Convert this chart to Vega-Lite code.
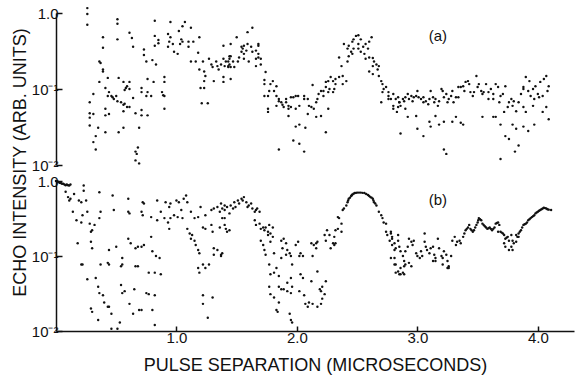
{
"$schema": "https://vega.github.io/schema/vega-lite/v6.json",
"background": "white",
"padding": {"left": 10, "top": 6, "right": 4, "bottom": 4},
"spacing": 16,
"bounds": "flush",
"config": {
 "view": {"stroke": null},
 "font": "Liberation Sans",
 "axis": {"grid": false, "domainColor": "#111", "tickColor": "#111", "labelColor": "#111", "titleColor": "#111", "domainWidth": 1.5, "tickWidth": 1.5, "labelFontSize": 15, "titleFontWeight": "normal"}
},
"datasets": {
"a": [
{"t":0.26,"v":1.16},{"t":0.26,"v":0.97},{"t":0.26,"v":0.70},{"t":0.51,"v":0.83},{"t":0.51,"v":0.72},{"t":0.82,"v":0.79},{"t":0.95,"v":0.76},{"t":1.07,"v":0.76},{"t":1.05,"v":0.67},{"t":1.12,"v":0.64},{"t":1.02,"v":0.58},{"t":0.61,"v":0.55},{"t":0.63,"v":0.47},{"t":0.64,"v":0.36},{"t":0.39,"v":0.48},{"t":0.39,"v":0.35},{"t":0.51,"v":0.45},{"t":0.73,"v":0.33},{"t":0.73,"v":0.28},{"t":0.82,"v":0.50},{"t":0.85,"v":0.44},{"t":0.85,"v":0.40},{"t":0.82,"v":0.37},{"t":0.93,"v":0.53},{"t":0.95,"v":0.48},{"t":0.94,"v":0.42},{"t":0.97,"v":0.39},{"t":0.93,"v":0.36},{"t":0.98,"v":0.31},{"t":1.01,"v":0.29},{"t":1.04,"v":0.45},{"t":1.05,"v":0.42},{"t":1.03,"v":0.39},{"t":1.10,"v":0.42},{"t":1.10,"v":0.36},{"t":1.14,"v":0.42},{"t":1.19,"v":0.48},{"t":1.18,"v":0.30},{"t":1.16,"v":0.23},{"t":1.12,"v":0.23},{"t":0.80,"v":0.24},{"t":0.75,"v":0.23},{"t":0.83,"v":0.21},{"t":0.36,"v":0.23},{"t":0.37,"v":0.22},{"t":0.39,"v":0.18},{"t":0.39,"v":0.17},{"t":0.36,"v":0.124},{"t":0.43,"v":0.14},{"t":0.52,"v":0.14},{"t":0.56,"v":0.124},{"t":0.61,"v":0.124},{"t":0.58,"v":0.103},{"t":0.57,"v":0.097},{"t":0.76,"v":0.135},{"t":0.81,"v":0.124},{"t":0.90,"v":0.144},{"t":0.90,"v":0.124},{"t":0.71,"v":0.103},{"t":0.71,"v":0.091},{"t":0.76,"v":0.091},{"t":0.79,"v":0.081},{"t":0.75,"v":0.081},{"t":0.88,"v":0.091},{"t":0.89,"v":0.083},{"t":0.90,"v":0.081},{"t":0.41,"v":0.103},{"t":0.44,"v":0.091},{"t":0.46,"v":0.081},{"t":0.47,"v":0.078},{"t":0.48,"v":0.074},{"t":0.50,"v":0.081},{"t":0.51,"v":0.069},{"t":0.43,"v":0.081},{"t":0.31,"v":0.086},{"t":0.64,"v":0.076},{"t":0.54,"v":0.067},{"t":0.56,"v":0.062},{"t":0.59,"v":0.058},{"t":0.57,"v":0.064},{"t":0.61,"v":0.10},{"t":0.59,"v":0.109},{"t":0.28,"v":0.067},{"t":0.41,"v":0.055},{"t":0.41,"v":0.045},{"t":0.44,"v":0.047},{"t":0.56,"v":0.051},{"t":0.61,"v":0.058},{"t":0.66,"v":0.048},{"t":0.71,"v":0.053},{"t":0.71,"v":0.045},{"t":0.76,"v":0.045},{"t":0.90,"v":0.055},{"t":0.28,"v":0.048},{"t":0.31,"v":0.047},{"t":0.28,"v":0.042},{"t":0.28,"v":0.033},{"t":0.35,"v":0.031},{"t":0.41,"v":0.027},{"t":0.52,"v":0.027},{"t":0.56,"v":0.031},{"t":0.69,"v":0.031},{"t":0.33,"v":0.024},{"t":0.31,"v":0.020},{"t":0.33,"v":0.016},{"t":0.68,"v":0.017},{"t":0.66,"v":0.015},{"t":0.67,"v":0.014},{"t":0.66,"v":0.0115},{"t":0.69,"v":0.0105},{"t":1.21,"v":0.065},{"t":1.26,"v":0.065},
{"t":1.19,"v":0.18},{"t":1.22,"v":0.23},{"t":1.23,"v":0.17},{"t":1.24,"v":0.148},{"t":1.27,"v":0.25},{"t":1.29,"v":0.21},{"t":1.30,"v":0.195},{"t":1.31,"v":0.127},{"t":1.33,"v":0.23},{"t":1.34,"v":0.20},{"t":1.35,"v":0.18},{"t":1.37,"v":0.21},{"t":1.39,"v":0.25},{"t":1.40,"v":0.20},{"t":1.41,"v":0.23},{"t":1.43,"v":0.195},{"t":1.44,"v":0.25},{"t":1.44,"v":0.27},{"t":1.23,"v":0.127},{"t":1.39,"v":0.144},{"t":1.39,"v":0.124},{"t":1.20,"v":0.103},{"t":1.23,"v":0.103},{"t":1.39,"v":0.37},
{"t":1.59,"v":0.56},{"t":1.63,"v":0.64},{"t":1.50,"v":0.48},{"t":1.45,"v":0.39},{"t":1.54,"v":0.36},{"t":1.55,"v":0.34},{"t":1.56,"v":0.37},{"t":1.59,"v":0.39},{"t":1.54,"v":0.31},{"t":1.56,"v":0.29},{"t":1.58,"v":0.32},{"t":1.62,"v":0.36},{"t":1.63,"v":0.31},{"t":1.68,"v":0.39},{"t":1.68,"v":0.37},{"t":1.66,"v":0.32},{"t":1.68,"v":0.29},{"t":1.68,"v":0.26},{"t":1.70,"v":0.25},{"t":1.66,"v":0.25},{"t":1.60,"v":0.23},{"t":1.56,"v":0.25},{"t":1.52,"v":0.26},{"t":1.51,"v":0.23},{"t":1.45,"v":0.27},{"t":1.43,"v":0.23},{"t":1.44,"v":0.21},{"t":1.47,"v":0.23},{"t":1.48,"v":0.195},{"t":1.45,"v":0.195},{"t":1.43,"v":0.20},{"t":1.66,"v":0.20},{"t":1.70,"v":0.21},{"t":1.74,"v":0.167},{"t":1.45,"v":0.135},{"t":1.73,"v":0.131},{"t":1.73,"v":0.116},{"t":1.80,"v":0.127},{"t":1.78,"v":0.116},{"t":1.83,"v":0.109},{"t":1.81,"v":0.094},{"t":1.77,"v":0.094},{"t":1.73,"v":0.081},{"t":1.76,"v":0.081},{"t":1.83,"v":0.081},{"t":1.85,"v":0.074},{"t":1.85,"v":0.069},{"t":1.87,"v":0.067},{"t":1.88,"v":0.062},{"t":1.89,"v":0.058},{"t":1.91,"v":0.067},{"t":1.93,"v":0.060},{"t":1.91,"v":0.074},{"t":1.95,"v":0.078},{"t":1.97,"v":0.078},{"t":1.99,"v":0.081},{"t":2.01,"v":0.081},{"t":1.95,"v":0.058},{"t":1.99,"v":0.055},{"t":2.02,"v":0.060},{"t":2.06,"v":0.074},{"t":2.06,"v":0.081},{"t":2.09,"v":0.074},{"t":2.10,"v":0.060},{"t":2.12,"v":0.058},{"t":2.09,"v":0.047},{"t":2.14,"v":0.055},{"t":2.16,"v":0.067},{"t":2.17,"v":0.074},{"t":2.18,"v":0.086},{"t":2.20,"v":0.094},{"t":2.22,"v":0.094},{"t":2.24,"v":0.106},{"t":2.22,"v":0.081},{"t":2.26,"v":0.091},{"t":2.27,"v":0.10},{"t":2.30,"v":0.091},{"t":2.24,"v":0.124},{"t":2.26,"v":0.127},{"t":2.28,"v":0.144},{"t":2.30,"v":0.127},{"t":2.32,"v":0.135},{"t":2.35,"v":0.144},{"t":2.38,"v":0.148},{"t":2.38,"v":0.116},{"t":2.41,"v":0.127},{"t":2.32,"v":0.116},{"t":2.31,"v":0.10},{"t":1.76,"v":0.055},{"t":1.76,"v":0.050},{"t":1.83,"v":0.060},{"t":1.93,"v":0.044},{"t":1.93,"v":0.055},{"t":1.99,"v":0.032},{"t":2.02,"v":0.034},{"t":2.07,"v":0.031},{"t":2.16,"v":0.043},{"t":2.20,"v":0.044},{"t":2.26,"v":0.055},{"t":2.24,"v":0.027},{"t":1.97,"v":0.021},{"t":2.02,"v":0.019},{"t":2.06,"v":0.015},{"t":1.85,"v":0.016},{"t":2.13,"v":0.113},{"t":2.37,"v":0.20},{"t":2.35,"v":0.26},
{"t":2.39,"v":0.39},{"t":2.42,"v":0.34},{"t":2.43,"v":0.37},{"t":2.46,"v":0.42},{"t":2.47,"v":0.45},{"t":2.49,"v":0.50},{"t":2.51,"v":0.51},{"t":2.53,"v":0.45},{"t":2.51,"v":0.39},{"t":2.47,"v":0.34},{"t":2.45,"v":0.31},{"t":2.43,"v":0.27},{"t":2.42,"v":0.23},{"t":2.46,"v":0.29},{"t":2.51,"v":0.34},{"t":2.53,"v":0.31},{"t":2.55,"v":0.36},{"t":2.57,"v":0.39},{"t":2.60,"v":0.42},{"t":2.62,"v":0.48},{"t":2.59,"v":0.34},{"t":2.56,"v":0.29},{"t":2.57,"v":0.25},{"t":2.60,"v":0.26},{"t":2.63,"v":0.256},{"t":2.64,"v":0.23},{"t":2.66,"v":0.21},{"t":2.67,"v":0.18},{"t":2.68,"v":0.20},{"t":2.63,"v":0.20},{"t":2.60,"v":0.17},{"t":2.63,"v":0.157},{"t":2.68,"v":0.148},{"t":2.70,"v":0.127},{"t":2.71,"v":0.116},{"t":2.72,"v":0.10},{"t":2.74,"v":0.106},{"t":2.71,"v":0.091},{"t":2.76,"v":0.081},{"t":2.76,"v":0.091},{"t":2.78,"v":0.074},{"t":2.80,"v":0.086},{"t":2.82,"v":0.074},{"t":2.84,"v":0.078},{"t":2.80,"v":0.060},{"t":2.80,"v":0.055},{"t":2.84,"v":0.058},{"t":2.85,"v":0.067},{"t":2.70,"v":0.067},{"t":2.76,"v":0.074},
{"t":2.85,"v":0.067},{"t":2.86,"v":0.060},{"t":2.88,"v":0.074},{"t":2.89,"v":0.069},{"t":2.90,"v":0.078},{"t":2.92,"v":0.086},{"t":2.93,"v":0.074},{"t":2.95,"v":0.081},{"t":2.96,"v":0.069},{"t":2.97,"v":0.078},{"t":2.99,"v":0.081},{"t":3.00,"v":0.094},{"t":3.01,"v":0.078},{"t":3.03,"v":0.074},{"t":3.05,"v":0.067},{"t":3.05,"v":0.078},{"t":3.07,"v":0.069},{"t":3.09,"v":0.063},{"t":3.10,"v":0.074},{"t":3.11,"v":0.094},{"t":3.13,"v":0.078},{"t":3.14,"v":0.067},{"t":3.15,"v":0.074},{"t":3.17,"v":0.060},{"t":3.18,"v":0.069},{"t":3.20,"v":0.10},{"t":3.21,"v":0.094},{"t":3.22,"v":0.078},{"t":3.24,"v":0.086},{"t":3.25,"v":0.067},{"t":3.26,"v":0.074},{"t":3.28,"v":0.081},{"t":3.29,"v":0.094},{"t":3.30,"v":0.067},{"t":3.32,"v":0.078},{"t":3.34,"v":0.106},{"t":3.34,"v":0.078},{"t":3.36,"v":0.106},{"t":3.38,"v":0.109},{"t":3.39,"v":0.094},{"t":3.40,"v":0.124},{"t":3.42,"v":0.127},{"t":3.43,"v":0.116},{"t":3.44,"v":0.091},{"t":3.46,"v":0.081},{"t":3.47,"v":0.091},{"t":3.49,"v":0.148},{"t":3.50,"v":0.106},{"t":3.51,"v":0.116},{"t":3.53,"v":0.094},{"t":3.54,"v":0.086},{"t":3.55,"v":0.091},{"t":3.57,"v":0.116},{"t":3.59,"v":0.091},{"t":3.59,"v":0.074},{"t":3.61,"v":0.10},{"t":3.63,"v":0.086},{"t":3.63,"v":0.074},{"t":3.65,"v":0.116},{"t":3.67,"v":0.106},{"t":3.68,"v":0.067},{"t":3.69,"v":0.081},{"t":3.71,"v":0.086},{"t":3.72,"v":0.050},{"t":3.73,"v":0.109},{"t":3.75,"v":0.058},{"t":3.76,"v":0.067},{"t":3.78,"v":0.074},{"t":3.79,"v":0.060},{"t":3.80,"v":0.069},{"t":3.82,"v":0.051},{"t":3.84,"v":0.067},{"t":3.86,"v":0.086},{"t":3.88,"v":0.10},{"t":3.88,"v":0.106},{"t":3.90,"v":0.144},{"t":3.92,"v":0.094},{"t":3.93,"v":0.127},{"t":3.94,"v":0.081},{"t":3.96,"v":0.10},{"t":3.97,"v":0.074},{"t":3.98,"v":0.109},{"t":4.00,"v":0.086},{"t":4.01,"v":0.078},{"t":4.02,"v":0.124},{"t":4.04,"v":0.081},{"t":4.05,"v":0.135},{"t":4.07,"v":0.148},{"t":4.08,"v":0.094},{"t":4.09,"v":0.109},{"t":4.09,"v":0.040},{"t":4.07,"v":0.058},{"t":4.04,"v":0.050},{"t":3.96,"v":0.060},{"t":3.90,"v":0.050},{"t":3.88,"v":0.058},
{"t":2.86,"v":0.026},{"t":2.92,"v":0.043},{"t":2.99,"v":0.044},{"t":3.00,"v":0.030},{"t":3.05,"v":0.024},{"t":3.10,"v":0.037},{"t":3.11,"v":0.032},{"t":3.15,"v":0.044},{"t":3.18,"v":0.034},{"t":3.22,"v":0.037},{"t":3.22,"v":0.016},{"t":3.24,"v":0.014},{"t":3.29,"v":0.037},{"t":3.32,"v":0.043},{"t":3.36,"v":0.036},{"t":3.38,"v":0.034},{"t":3.54,"v":0.043},{"t":3.63,"v":0.043},{"t":3.65,"v":0.043},{"t":3.69,"v":0.034},{"t":3.69,"v":0.012},{"t":3.73,"v":0.024},{"t":3.76,"v":0.022},{"t":3.79,"v":0.034},{"t":3.82,"v":0.030},{"t":3.84,"v":0.018},{"t":3.81,"v":0.015},{"t":3.88,"v":0.032},{"t":3.92,"v":0.028},{"t":3.97,"v":0.034},{"t":2.83,"v":0.050},{"t":2.90,"v":0.055}
],
"b": [
{"t":0.0,"v":1.0},{"t":0.01,"v":0.99},{"t":0.02,"v":0.97},{"t":0.03,"v":0.95},{"t":0.04,"v":0.94},{"t":0.05,"v":0.92},{"t":0.06,"v":0.92},{"t":0.07,"v":0.90},{"t":0.08,"v":0.88},{"t":0.09,"v":0.90},{"t":0.10,"v":0.88},{"t":0.11,"v":0.87},{"t":0.12,"v":0.90},
{"t":0.08,"v":0.72},{"t":0.10,"v":0.61},{"t":0.11,"v":0.55},{"t":0.12,"v":0.58},{"t":0.15,"v":0.67},{"t":0.19,"v":0.55},{"t":0.21,"v":0.52},{"t":0.23,"v":0.87},{"t":0.23,"v":0.74},{"t":0.25,"v":0.55},{"t":0.36,"v":0.71},{"t":0.47,"v":0.64},{"t":0.60,"v":0.58},{"t":0.72,"v":0.52},{"t":0.73,"v":0.50},{"t":0.84,"v":0.55},{"t":0.91,"v":0.52},{"t":0.94,"v":0.45},{"t":0.95,"v":0.50},{"t":1.0,"v":0.55},{"t":1.02,"v":0.52},{"t":1.04,"v":0.41},{"t":1.06,"v":0.58},{"t":1.08,"v":0.64},{"t":1.09,"v":0.52},{"t":1.12,"v":0.39},{"t":1.15,"v":0.32},{"t":1.18,"v":0.33},{"t":1.20,"v":0.45},{"t":1.24,"v":0.35},{"t":1.29,"v":0.41},{"t":1.31,"v":0.43},{"t":1.34,"v":0.45},{"t":1.36,"v":0.39},{"t":1.38,"v":0.43},{"t":1.40,"v":0.32},{"t":1.40,"v":0.47},
{"t":0.14,"v":0.39},{"t":0.17,"v":0.30},{"t":0.21,"v":0.28},{"t":0.22,"v":0.35},{"t":0.26,"v":0.39},{"t":0.28,"v":0.27},{"t":0.29,"v":0.21},{"t":0.30,"v":0.22},{"t":0.32,"v":0.26},{"t":0.36,"v":0.32},{"t":0.37,"v":0.39},{"t":0.48,"v":0.41},{"t":0.60,"v":0.39},{"t":0.61,"v":0.37},{"t":0.71,"v":0.39},{"t":0.72,"v":0.35},{"t":0.79,"v":0.33},{"t":0.84,"v":0.30},{"t":0.87,"v":0.39},{"t":0.90,"v":0.32},{"t":0.93,"v":0.28},{"t":0.94,"v":0.23},{"t":0.95,"v":0.32},{"t":0.98,"v":0.35},{"t":1.01,"v":0.33},{"t":1.05,"v":0.32},{"t":1.09,"v":0.23},{"t":1.11,"v":0.20},{"t":1.12,"v":0.17},{"t":1.13,"v":0.19},{"t":1.15,"v":0.16},{"t":1.16,"v":0.14},{"t":1.18,"v":0.12},{"t":1.19,"v":0.109},{"t":1.22,"v":0.24},{"t":1.24,"v":0.23},{"t":1.29,"v":0.26},{"t":1.30,"v":0.21},{"t":1.31,"v":0.127},{"t":1.34,"v":0.12},{"t":1.37,"v":0.104},{"t":1.36,"v":0.24},
{"t":0.18,"v":0.148},{"t":0.29,"v":0.155},{"t":0.30,"v":0.127},{"t":0.44,"v":0.12},{"t":0.50,"v":0.133},{"t":0.55,"v":0.094},{"t":0.60,"v":0.17},{"t":0.62,"v":0.148},{"t":0.66,"v":0.127},{"t":0.68,"v":0.133},{"t":0.71,"v":0.133},{"t":0.73,"v":0.14},{"t":0.79,"v":0.18},{"t":0.80,"v":0.116},{"t":0.83,"v":0.10},{"t":0.86,"v":0.094},{"t":0.21,"v":0.077},{"t":0.22,"v":0.077},{"t":0.37,"v":0.077},{"t":0.43,"v":0.081},{"t":0.44,"v":0.077},{"t":0.54,"v":0.073},{"t":0.55,"v":0.077},{"t":0.66,"v":0.073},{"t":0.68,"v":0.073},{"t":0.77,"v":0.060},{"t":0.82,"v":0.060},{"t":0.87,"v":0.057},{"t":1.18,"v":0.069},{"t":1.19,"v":0.060},{"t":1.22,"v":0.077},{"t":1.24,"v":0.069},{"t":1.27,"v":0.077},{"t":1.31,"v":0.104},
{"t":0.26,"v":0.049},{"t":0.33,"v":0.051},{"t":0.35,"v":0.039},{"t":0.36,"v":0.032},{"t":0.39,"v":0.030},{"t":0.40,"v":0.024},{"t":0.44,"v":0.021},{"t":0.54,"v":0.041},{"t":0.55,"v":0.032},{"t":0.57,"v":0.034},{"t":0.61,"v":0.023},{"t":0.65,"v":0.036},{"t":0.69,"v":0.019},{"t":0.71,"v":0.019},{"t":0.64,"v":0.017},{"t":0.75,"v":0.032},{"t":0.77,"v":0.031},{"t":0.82,"v":0.030},{"t":0.80,"v":0.019},{"t":0.29,"v":0.020},{"t":0.30,"v":0.018},{"t":0.35,"v":0.014},{"t":0.43,"v":0.021},{"t":0.46,"v":0.017},{"t":0.53,"v":0.013},{"t":0.46,"v":0.0107},{"t":0.51,"v":0.0107},{"t":1.22,"v":0.030},{"t":1.22,"v":0.023},{"t":1.30,"v":0.028},{"t":1.26,"v":0.015},{"t":0.82,"v":0.012},
{"t":1.37,"v":0.50},{"t":1.40,"v":0.41},{"t":1.42,"v":0.45},{"t":1.44,"v":0.37},{"t":1.45,"v":0.47},{"t":1.47,"v":0.43},{"t":1.48,"v":0.52},{"t":1.49,"v":0.45},{"t":1.51,"v":0.55},{"t":1.52,"v":0.50},{"t":1.54,"v":0.58},{"t":1.55,"v":0.55},{"t":1.56,"v":0.61},{"t":1.58,"v":0.52},{"t":1.59,"v":0.45},{"t":1.60,"v":0.47},{"t":1.62,"v":0.50},{"t":1.63,"v":0.43},{"t":1.65,"v":0.39},{"t":1.66,"v":0.41},{"t":1.67,"v":0.43},{"t":1.69,"v":0.39},{"t":1.65,"v":0.30},{"t":1.66,"v":0.26},{"t":1.69,"v":0.27},{"t":1.70,"v":0.23},{"t":1.72,"v":0.24},{"t":1.73,"v":0.22},{"t":1.74,"v":0.24},{"t":1.76,"v":0.21},{"t":1.77,"v":0.26},{"t":1.80,"v":0.24},{"t":1.78,"v":0.20},{"t":1.40,"v":0.26},{"t":1.41,"v":0.23},{"t":1.42,"v":0.21},{"t":1.44,"v":0.22},{"t":1.38,"v":0.32},{"t":1.37,"v":0.10},{"t":1.38,"v":0.109},
{"t":1.70,"v":0.16},{"t":1.72,"v":0.14},{"t":1.73,"v":0.12},{"t":1.74,"v":0.104},{"t":1.76,"v":0.19},{"t":1.78,"v":0.155},{"t":1.80,"v":0.18},{"t":1.81,"v":0.109},{"t":1.77,"v":0.077},{"t":1.78,"v":0.057},{"t":1.81,"v":0.060},{"t":1.83,"v":0.069},{"t":1.85,"v":0.054},{"t":1.87,"v":0.16},{"t":1.88,"v":0.127},{"t":1.89,"v":0.17},{"t":1.91,"v":0.148},{"t":1.92,"v":0.12},{"t":1.94,"v":0.109},{"t":1.95,"v":0.10},{"t":1.91,"v":0.104},{"t":1.87,"v":0.094},{"t":1.85,"v":0.039},{"t":1.87,"v":0.036},{"t":1.89,"v":0.036},{"t":1.92,"v":0.034},{"t":1.95,"v":0.032},{"t":1.92,"v":0.044},{"t":1.95,"v":0.051},{"t":1.96,"v":0.039},{"t":1.96,"v":0.077},{"t":1.99,"v":0.14},{"t":2.01,"v":0.155},{"t":2.02,"v":0.10},{"t":2.03,"v":0.109},{"t":2.05,"v":0.10},{"t":2.03,"v":0.057},{"t":2.05,"v":0.051},{"t":2.02,"v":0.034},{"t":2.06,"v":0.030},{"t":2.07,"v":0.023},{"t":2.09,"v":0.021},{"t":2.10,"v":0.024},{"t":2.12,"v":0.046},{"t":2.13,"v":0.023},{"t":2.14,"v":0.14},{"t":2.16,"v":0.148},{"t":2.17,"v":0.155},{"t":2.12,"v":0.148},{"t":2.13,"v":0.10},{"t":2.16,"v":0.127},{"t":2.17,"v":0.062},{"t":2.19,"v":0.036},{"t":2.20,"v":0.034},{"t":2.21,"v":0.039},{"t":2.23,"v":0.031},{"t":2.24,"v":0.046},{"t":2.21,"v":0.027},{"t":2.20,"v":0.023},{"t":2.17,"v":0.021},{"t":1.81,"v":0.028},{"t":1.83,"v":0.019},{"t":1.84,"v":0.018},{"t":1.85,"v":0.024},{"t":1.94,"v":0.017},{"t":1.95,"v":0.014},{"t":1.96,"v":0.013},{"t":1.77,"v":0.039},{"t":1.78,"v":0.031},
{"t":2.23,"v":0.19},{"t":2.24,"v":0.16},{"t":2.25,"v":0.22},{"t":2.27,"v":0.19},{"t":2.28,"v":0.127},{"t":2.30,"v":0.148},{"t":2.31,"v":0.14},{"t":2.32,"v":0.148},{"t":2.31,"v":0.18},{"t":2.32,"v":0.22},{"t":2.34,"v":0.23},{"t":2.34,"v":0.33},{"t":2.35,"v":0.32},{"t":2.37,"v":0.27},{"t":2.37,"v":0.21},{"t":2.38,"v":0.41},{"t":2.39,"v":0.43},{"t":2.41,"v":0.47},
{"t":2.42,"v":0.52},{"t":2.425,"v":0.55},{"t":2.43,"v":0.58},{"t":2.44,"v":0.60},{"t":2.45,"v":0.63},{"t":2.455,"v":0.645},{"t":2.46,"v":0.66},{"t":2.47,"v":0.675},{"t":2.48,"v":0.69},{"t":2.49,"v":0.695},{"t":2.50,"v":0.70},{"t":2.515,"v":0.70},{"t":2.53,"v":0.70},{"t":2.545,"v":0.695},{"t":2.56,"v":0.69},{"t":2.575,"v":0.67},{"t":2.59,"v":0.65},{"t":2.60,"v":0.63},{"t":2.61,"v":0.61},{"t":2.62,"v":0.60},{"t":2.63,"v":0.58},{"t":2.635,"v":0.55},{"t":2.64,"v":0.52},{"t":2.65,"v":0.50},{"t":2.66,"v":0.47},
{"t":2.68,"v":0.39},{"t":2.70,"v":0.35},{"t":2.71,"v":0.32},{"t":2.72,"v":0.28},{"t":2.74,"v":0.27},{"t":2.74,"v":0.21},{"t":2.75,"v":0.19},{"t":2.77,"v":0.16},{"t":2.78,"v":0.20},{"t":2.79,"v":0.18},{"t":2.79,"v":0.14},{"t":2.81,"v":0.12},{"t":2.78,"v":0.094},{"t":2.81,"v":0.077},{"t":2.82,"v":0.060},
{"t":2.78,"v":0.21},{"t":2.79,"v":0.17},{"t":2.81,"v":0.148},{"t":2.82,"v":0.127},{"t":2.84,"v":0.19},{"t":2.84,"v":0.16},{"t":2.85,"v":0.133},{"t":2.86,"v":0.116},{"t":2.88,"v":0.10},{"t":2.89,"v":0.086},{"t":2.90,"v":0.077},{"t":2.81,"v":0.094},{"t":2.82,"v":0.077},{"t":2.84,"v":0.062},{"t":2.85,"v":0.057},{"t":2.86,"v":0.069},{"t":2.88,"v":0.060},{"t":2.89,"v":0.073},{"t":2.90,"v":0.116},{"t":2.92,"v":0.133},{"t":2.93,"v":0.17},{"t":2.95,"v":0.155},{"t":2.96,"v":0.14},{"t":2.97,"v":0.16},{"t":2.99,"v":0.109},{"t":3.00,"v":0.10},{"t":3.02,"v":0.094},{"t":3.03,"v":0.116},{"t":3.04,"v":0.10},{"t":3.06,"v":0.155},{"t":3.06,"v":0.20},{"t":3.07,"v":0.133},{"t":3.08,"v":0.12},{"t":3.10,"v":0.109},{"t":3.11,"v":0.127},{"t":3.13,"v":0.133},{"t":3.14,"v":0.104},{"t":3.15,"v":0.086},{"t":3.17,"v":0.17},{"t":3.18,"v":0.127},{"t":3.20,"v":0.10},{"t":3.21,"v":0.077},{"t":3.22,"v":0.116},{"t":3.24,"v":0.104},{"t":3.25,"v":0.086},{"t":3.26,"v":0.073},{"t":3.28,"v":0.10},{"t":3.29,"v":0.16},{"t":3.31,"v":0.18},{"t":3.32,"v":0.14},{"t":3.33,"v":0.155},{"t":3.35,"v":0.16},{"t":3.36,"v":0.148},{"t":3.38,"v":0.18},{"t":3.25,"v":0.069},{"t":3.26,"v":0.069},{"t":3.21,"v":0.094},{"t":2.93,"v":0.081},{"t":2.95,"v":0.073},{"t":2.86,"v":0.057},{"t":2.89,"v":0.057},{"t":3.15,"v":0.094},{"t":3.13,"v":0.086},
{"t":3.39,"v":0.20},{"t":3.40,"v":0.22},{"t":3.41,"v":0.23},{"t":3.42,"v":0.24},{"t":3.43,"v":0.26},{"t":3.44,"v":0.23},{"t":3.45,"v":0.22},{"t":3.46,"v":0.21},{"t":3.47,"v":0.22},{"t":3.48,"v":0.24},{"t":3.49,"v":0.26},{"t":3.50,"v":0.28},{"t":3.505,"v":0.30},{"t":3.51,"v":0.32},{"t":3.52,"v":0.31},{"t":3.53,"v":0.30},{"t":3.54,"v":0.27},{"t":3.55,"v":0.26},{"t":3.56,"v":0.25},{"t":3.57,"v":0.24},{"t":3.58,"v":0.23},{"t":3.59,"v":0.235},{"t":3.60,"v":0.24},{"t":3.61,"v":0.23},{"t":3.62,"v":0.22},{"t":3.63,"v":0.23},{"t":3.64,"v":0.24},{"t":3.65,"v":0.27},{"t":3.66,"v":0.275},{"t":3.67,"v":0.28},{"t":3.68,"v":0.26},{"t":3.67,"v":0.21},{"t":3.69,"v":0.21},{"t":3.70,"v":0.205},{"t":3.71,"v":0.20},{"t":3.72,"v":0.19},{"t":3.73,"v":0.17},{"t":3.74,"v":0.175},{"t":3.75,"v":0.18},{"t":3.76,"v":0.16},{"t":3.78,"v":0.19},{"t":3.79,"v":0.16},{"t":3.80,"v":0.148},{"t":3.72,"v":0.148},{"t":3.73,"v":0.133},{"t":3.76,"v":0.12},{"t":3.79,"v":0.12},{"t":3.78,"v":0.133},{"t":3.82,"v":0.19},{"t":3.83,"v":0.18},{"t":3.84,"v":0.20},{"t":3.85,"v":0.21},{"t":3.86,"v":0.22},{"t":3.87,"v":0.24},{"t":3.88,"v":0.26},{"t":3.89,"v":0.265},{"t":3.90,"v":0.27},{"t":3.91,"v":0.28},{"t":3.92,"v":0.30},{"t":3.93,"v":0.31},{"t":3.94,"v":0.32},{"t":3.95,"v":0.33},{"t":3.96,"v":0.34},{"t":3.97,"v":0.35},{"t":3.98,"v":0.37},{"t":3.99,"v":0.38},{"t":4.00,"v":0.39},{"t":4.01,"v":0.40},{"t":4.02,"v":0.41},{"t":4.03,"v":0.42},{"t":4.04,"v":0.43},{"t":4.05,"v":0.44},{"t":4.06,"v":0.435},{"t":4.07,"v":0.43},{"t":4.08,"v":0.42},{"t":4.09,"v":0.415},{"t":4.11,"v":0.41},{"t":3.84,"v":0.18},{"t":3.82,"v":0.155}
]
},
"vconcat": [
 {
  "width": 518, "height": 152,
  "layer": [
   {
    "data": {"name": "a"},
    "mark": {"type": "point", "filled": true, "size": 6, "color": "#111", "opacity": 1},
    "encoding": {
     "x": {"field": "t", "type": "quantitative", "scale": {"domain": [0, 4.3], "nice": false, "zero": false}, "axis": null},
     "y": {"field": "v", "type": "quantitative", "scale": {"type": "log", "domain": [0.01, 1], "nice": false}, "axis": {"values": [0.01, 0.1, 1], "labelExpr": "datum.value > 0.5 ? '1.0' : datum.value > 0.05 ? '10⁻¹' : '10⁻²'", "title": null, "tickSize": -6, "labelPadding": 4}}
    }
   },
   {
    "data": {"values": [{"t": 3.17, "v": 0.5, "label": "(a)"}]},
    "mark": {"type": "text", "fontSize": 15, "color": "#111"},
    "encoding": {
     "x": {"field": "t", "type": "quantitative"},
     "y": {"field": "v", "type": "quantitative"},
     "text": {"field": "label"}
    }
   }
  ]
 },
 {
  "width": 518, "height": 150,
  "layer": [
   {
    "data": {"name": "b"},
    "mark": {"type": "point", "filled": true, "size": 6, "color": "#111", "opacity": 1},
    "encoding": {
     "x": {"field": "t", "type": "quantitative", "scale": {"domain": [0, 4.3], "nice": false, "zero": false}, "axis": {"values": [1, 2, 3, 4], "format": ".1f", "tickSize": -5, "labelPadding": 4, "title": "PULSE SEPARATION (MICROSECONDS)", "titleFontSize": 18, "titlePadding": 11}},
     "y": {"field": "v", "type": "quantitative", "scale": {"type": "log", "domain": [0.01, 1], "nice": false}, "axis": {"values": [0.01, 0.1, 1], "labelExpr": "datum.value > 0.5 ? '1.0' : datum.value > 0.05 ? '10⁻¹' : '10⁻²'", "tickSize": -6, "labelPadding": 4, "title": "ECHO INTENSITY (ARB. UNITS)", "titleFontSize": 18, "titleAngle": -90, "titleX": -36, "titleY": -19, "titleAlign": "center", "titleBaseline": "middle"}}
    }
   },
   {
    "data": {"values": [{"t": 3.17, "v": 0.55, "label": "(b)"}]},
    "mark": {"type": "text", "fontSize": 15, "color": "#111"},
    "encoding": {
     "x": {"field": "t", "type": "quantitative"},
     "y": {"field": "v", "type": "quantitative"},
     "text": {"field": "label"}
    }
   }
  ]
 }
]
}
